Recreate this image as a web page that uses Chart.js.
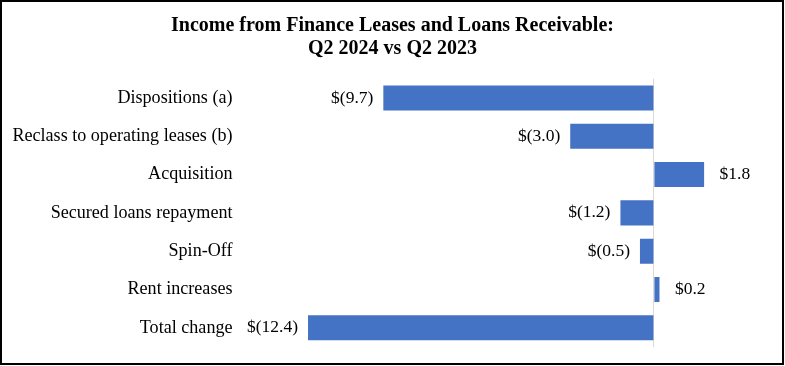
<!DOCTYPE html>
<html>
<head>
<meta charset="utf-8">
<script src="https://cdn.jsdelivr.net/npm/chart.js@4/dist/chart.umd.min.js"></script>
<style>
  html, body { margin: 0; padding: 0; background: #ffffff; }
  #wrap { width: 785px; height: 366px; position: relative; }
</style>
</head>
<body>
<div id="wrap"><canvas id="c" width="785" height="366"></canvas></div>
<script>
const categories = [
  "Dispositions (a)",
  "Reclass to operating leases (b)",
  "Acquisition",
  "Secured loans repayment",
  "Spin-Off",
  "Rent increases",
  "Total change"
];
const values = [-9.7, -3.0, 1.8, -1.2, -0.5, 0.2, -12.4];
const titleLines = ["Income from Finance Leases and Loans Receivable:", "Q2 2024 vs Q2 2023"];

const SERIF = "'Liberation Serif', 'Times New Roman', serif";

function fmt(v) {
  return v < 0 ? "$(" + Math.abs(v).toFixed(1) + ")" : "$" + v.toFixed(1);
}

const valueLabels = {
  id: "valueLabels",
  afterDatasetsDraw(chart) {
    const ctx = chart.ctx;
    const meta = chart.getDatasetMeta(0);
    ctx.save();
    ctx.font = "17.5px " + SERIF;
    ctx.fillStyle = "#000000";
    ctx.textBaseline = "middle";
    meta.data.forEach((bar, i) => {
      const v = values[i];
      if (v < 0) {
        ctx.textAlign = "right";
        ctx.fillText(fmt(v), bar.x - 10, bar.y);
      } else {
        ctx.textAlign = "left";
        ctx.fillText(fmt(v), bar.x + 15.5, bar.y);
      }
    });
    ctx.restore();
  }
};

const frame = {
  id: "frame",
  afterDraw(chart) {
    const ctx = chart.ctx;
    ctx.save();
    ctx.strokeStyle = "#000000";
    ctx.lineWidth = 2;
    ctx.strokeRect(1, 1, 782, 363);
    ctx.restore();
  }
};

new Chart(document.getElementById("c"), {
  type: "bar",
  data: {
    labels: categories,
    datasets: [{
      data: values,
      backgroundColor: "#4472C4",
      borderWidth: 0,
      categoryPercentage: 1,
      barPercentage: 0.654
    }]
  },
  options: {
    indexAxis: "y",
    responsive: false,
    animation: false,
    devicePixelRatio: 1,
    layout: { padding: { top: 0, left: 0, right: 0, bottom: 19 } },
    plugins: {
      legend: { display: false },
      tooltip: { enabled: false },
      title: {
        display: true,
        text: titleLines,
        color: "#000000",
        font: { family: SERIF, size: 20, weight: "bold", lineHeight: 1.12 },
        padding: { top: 15, bottom: 19 }
      }
    },
    scales: {
      x: {
        min: -15,
        max: 4.7,
        ticks: { display: false, stepSize: 1 },
        border: { display: false },
        grid: {
          drawTicks: false,
          lineWidth: 1,
          color: (c) => (c.tick && c.tick.value === 0 ? "#d9d9d9" : "rgba(0,0,0,0)")
        }
      },
      y: {
        afterFit: (s) => { s.width = 235.5; },
        border: { display: false },
        grid: { display: false, drawTicks: false },
        ticks: {
          padding: 3,
          color: "#000000",
          font: { family: SERIF, size: 18.1 }
        }
      }
    }
  },
  plugins: [valueLabels, frame]
});
</script>
</body>
</html>
